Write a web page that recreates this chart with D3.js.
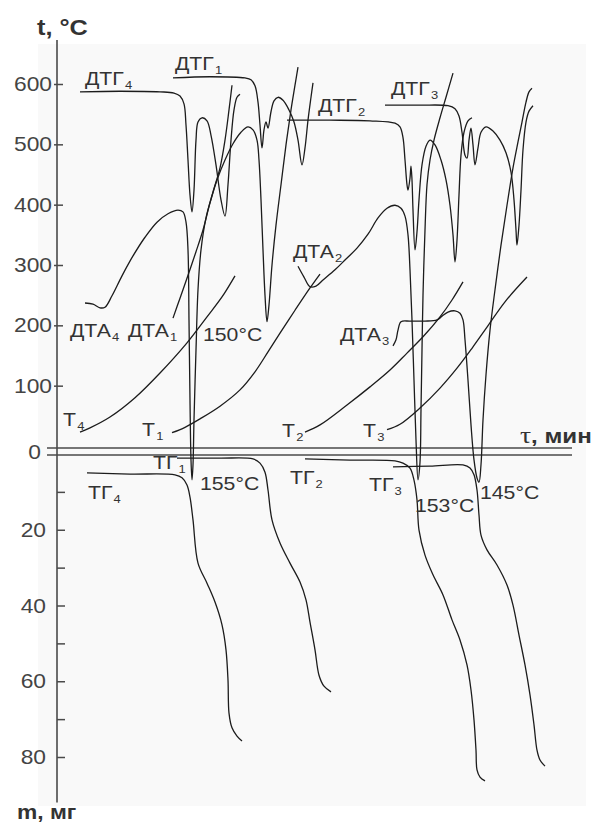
<!DOCTYPE html>
<html>
<head>
<meta charset="utf-8">
<script src="https://cdn.jsdelivr.net/npm/d3@7"></script>
<style>
  body { margin: 0; background: #fff; }
  svg { display: block; font-family: "Liberation Sans", Arial, sans-serif; }
</style>
</head>
<body>
<svg></svg>
<script>
var width = 601;
var height = 823;

// time axis carries no ticks, tau is in arbitrary minutes
// temperature curves  [tau, t °C]
var T4 = [[2.3,23],[3.3,30],[5.3,48],[7.8,80],[10.3,121],[13.0,171],[15.0,214],[16.5,247],[17.8,282]];
var T1 = [[11.5,22],[12.8,31],[14.3,45],[16.3,66],[18.3,93],[19.8,123],[21.1,156],[22.3,187],[23.8,225],[25.3,262],[26.3,285]];
var T2 = [[24.8,23],[26.3,35],[29.0,68],[31.3,98],[33.3,126],[35.0,154],[36.6,181],[38.3,214],[39.5,242],[40.6,272]];
var T3 = [[33.0,27],[34.3,36],[36.3,63],[38.3,96],[40.0,129],[41.5,162],[43.0,197],[44.8,239],[47.0,280]];

// DTA curves, drawn on the temperature scale
var DTA4 = [[2.8,237],[3.6,235],[4.3,229],[4.8,230],[5.5,249],[6.5,282],[7.6,315],[8.8,346],[10.0,371],[11.1,385],
  [12.1,391],[12.6,388],[12.9,371],[13.1,325],[13.2,209],[13.3,76],[13.4,-23],[13.5,-56],[13.6,-31],[13.7,43],
  [13.9,159],[14.1,259],[14.4,325],[14.9,378],[15.6,421],[16.3,461],[16.8,507],[17.2,557],[17.5,598]];
var DTA1 = [[11.6,212],[12.3,245],[13.1,283],[13.9,322],[14.6,358],[15.3,403],[16.0,441],[16.8,474],[17.6,501],
  [18.4,520],[19.1,529],[19.6,524],[20.0,507],[20.2,474],[20.4,408],[20.6,325],[20.8,250],[21.0,206],[21.2,234],
  [21.5,300],[21.9,366],[22.4,433],[22.9,499],[23.4,557],[23.8,598],[24.1,628]];
var DTA2 = [[24.1,298],[24.7,280],[25.3,264],[25.9,265],[26.6,275],[27.8,292],[28.9,310],[30.0,328],[31.1,351],
  [32.1,378],[33.0,394],[33.8,399],[34.4,394],[34.8,381],[35.1,350],[35.3,292],[35.5,209],[35.7,109],[35.9,10],
  [36.1,-56],[36.3,-27],[36.4,60],[36.5,159],[36.6,250],[36.8,358],[37.0,433],[37.3,474],[37.7,507],[38.3,544],
  [38.9,578],[39.6,618]];
var DTA3 = [[33.6,166],[33.9,176],[34.1,192],[34.4,206],[35.3,207],[36.8,207],[38.0,209],[38.5,215],[39.1,222],
  [39.8,224],[40.3,220],[40.6,209],[40.8,176],[41.1,109],[41.4,35],[41.7,-23],[42.0,-53],[42.2,-60],[42.4,-31],
  [42.6,43],[42.9,118],[43.3,192],[43.8,259],[44.4,333],[45.0,399],[45.6,461],[46.1,504],[46.5,537],[46.9,570],
  [47.2,587],[47.5,593]];

// DTG curves, drawn on the temperature scale
var DTG4 = [[2.3,587],[6.3,588],[10.3,587],[11.7,585],[12.3,580],[12.7,567],[12.9,532],[13.1,474],[13.3,416],
  [13.5,388],[13.7,424],[13.9,507],[14.1,537],[14.5,544],[15.0,539],[15.4,515],[15.9,466],[16.4,408],[16.8,381],
  [17.1,433],[17.4,507],[17.7,557],[18.0,578],[18.3,583]];
var DTG1 = [[11.6,610],[15.3,612],[18.8,610],[19.4,607],[19.8,597],[20.1,570],[20.3,532],[20.5,494],[20.7,524],
  [20.9,537],[21.1,527],[21.4,554],[21.7,572],[22.1,578],[22.6,573],[23.2,557],[23.7,537],[24.1,507],[24.5,466],
  [24.8,494],[25.1,540],[25.4,578],[25.6,602]];
var DTG2 = [[23.0,540],[27.3,540],[31.3,539],[33.8,535],[34.3,529],[34.6,511],[34.8,474],[35.0,433],[35.1,424],
  [35.3,444],[35.4,464],[35.5,441],[35.6,391],[35.8,325],[36.0,355],[36.2,408],[36.5,466],[36.9,497],[37.3,507],
  [37.8,499],[38.4,474],[38.9,441],[39.3,399],[39.6,350],[39.8,305],[40.0,341],[40.2,416],[40.4,482],[40.7,520],
  [41.1,539],[41.5,544]];
var DTG3 = [[32.8,565],[36.3,565],[39.1,564],[39.8,559],[40.2,547],[40.5,520],[40.8,482],[41.0,477],[41.2,507],
  [41.4,527],[41.6,499],[41.8,466],[42.1,494],[42.4,520],[42.9,529],[43.6,522],[44.3,507],[44.9,486],[45.4,454],
  [45.7,408],[45.9,358],[46.0,333],[46.2,366],[46.4,424],[46.6,491],[46.9,537],[47.2,555],[47.6,564]];

// TG curves  [tau, m mg]
var TG4 = [[3.0,5.0],[7.3,5.3],[11.8,5.5],[12.5,6.3],[13.0,8.2],[13.3,11.4],[13.6,17.4],[14.1,28.8],[15.0,34.1],
  [15.8,39.1],[16.5,45.1],[16.9,51.7],[17.1,59.7],[17.2,68.4],[17.5,72.3],[18.0,74.5],[18.5,75.8]];
var TG1 = [[12.0,1.1],[16.3,1.1],[19.6,1.3],[20.3,2.4],[20.8,4.8],[21.1,9.5],[21.5,17.4],[22.3,23.5],[23.3,28.8],
  [24.3,33.8],[24.9,38.5],[25.3,44.4],[25.8,51.7],[26.2,58.4],[26.7,61.3],[27.4,62.8]];
var TG2 = [[24.8,1.3],[29.3,1.6],[33.8,1.8],[34.6,2.4],[35.3,3.7],[35.7,6.9],[36.0,12.1],[36.2,20.1],[36.8,26.7],
  [37.6,31.9],[38.6,37.2],[39.5,43.8],[40.3,49.1],[41.0,55.7],[41.4,62.3],[41.7,70.2],[41.9,78.2],[42.0,83.4],
  [42.3,85.3],[42.8,86.3]];
var TG3 = [[33.6,3.4],[37.3,3.2],[40.6,2.9],[41.3,3.7],[41.7,5.5],[42.0,9.5],[42.2,16.1],[42.4,21.4],[43.0,25.3],
  [44.0,29.3],[45.0,34.6],[45.6,39.9],[46.2,47.8],[46.8,55.7],[47.3,63.6],[47.7,71.5],[48.0,78.2],[48.3,80.8],
  [48.8,82.4]];

var tempTicks = [100, 200, 300, 400, 500, 600];
var massTicks = [10, 20, 30, 40, 50, 60, 70, 80];
var massTickLabels = [20, 40, 60, 80];

// curve names, anchored in data units
var tempLabels = [
  { text: "ДТГ", sub: "4", tau: 2.8, val: 598 },
  { text: "ДТГ", sub: "1", tau: 11.8, val: 623 },
  { text: "ДТГ", sub: "2", tau: 26.1, val: 554 },
  { text: "ДТГ", sub: "3", tau: 33.4, val: 582 },
  { text: "ДТА", sub: "4", tau: 1.3, val: 180 },
  { text: "ДТА", sub: "1", tau: 7.1, val: 180 },
  { text: "ДТА", sub: "2", tau: 23.6, val: 312 },
  { text: "ДТА", sub: "3", tau: 28.3, val: 174 },
  { text: "T", sub: "4", tau: 0.6, val: 33 },
  { text: "T", sub: "1", tau: 8.5, val: 17 },
  { text: "T", sub: "2", tau: 22.5, val: 15 },
  { text: "T", sub: "3", tau: 30.6, val: 15 },
  { text: "150°C", sub: "", tau: 14.6, val: 174 }
];
var massLabels = [
  { text: "ТГ", sub: "1", tau: 9.6, val: 4.0 },
  { text: "ТГ", sub: "4", tau: 3.1, val: 11.9 },
  { text: "ТГ", sub: "2", tau: 23.3, val: 7.9 },
  { text: "ТГ", sub: "3", tau: 31.2, val: 9.8 },
  { text: "155°C", sub: "", tau: 14.3, val: 9.5 },
  { text: "153°C", sub: "", tau: 35.8, val: 15.3 },
  { text: "145°C", sub: "", tau: 42.3, val: 11.9 }
];

const svg = d3.select('svg')
    .attr('width', width)
    .attr('height', height);

var x = d3.scaleLinear().domain([0, 52]).range([57, 577]);
var yT = d3.scaleLinear().domain([0, 600]).range([446, 84]);
var yM = d3.scaleLinear().domain([0, 80]).range([454, 757]);

var ink = "#1c1c1c";
var axisInk = "#4a4a4a";

// faint scan background
svg.append('rect')
    .attr('x', 38).attr('y', 44)
    .attr('width', 548).attr('height', 762)
    .attr('fill', '#f9f9f9');

// vertical axis: temperature above, mass below
svg.append('line')
    .attr('x1', x(0)).attr('x2', x(0))
    .attr('y1', yT(673)).attr('y2', yM(92))
    .attr('stroke', axisInk).attr('stroke-width', 1.6);

// double tau line (t = 0 and m = 0)
svg.append('line')
    .attr('x1', x(-1)).attr('x2', x(51.5))
    .attr('y1', yT(0) + 2).attr('y2', yT(0) + 2)
    .attr('stroke', axisInk).attr('stroke-width', 1.5);
svg.append('line')
    .attr('x1', x(-1)).attr('x2', x(51.5))
    .attr('y1', yM(0) + 1).attr('y2', yM(0) + 1)
    .attr('stroke', axisInk).attr('stroke-width', 1.5);

// ticks
var tAxis = svg.append('g')
    .attr('transform', `translate(${x(0) - 3},0)`)
    .call(d3.axisRight(yT).tickValues(tempTicks).tickSize(9).tickFormat(''));
var mAxis = svg.append('g')
    .attr('transform', `translate(${x(0)},0)`)
    .call(d3.axisRight(yM).tickValues(massTicks).tickSize(8).tickFormat(''));
[tAxis, mAxis].forEach(function(g) {
    g.select('.domain').remove();
    g.selectAll('.tick line').attr('stroke', axisInk).attr('stroke-width', 1.5);
});

// tick labels, stretched a bit like the printed figure
function stretchedText(px, py, sx, anchor) {
    return svg.append('text')
        .attr('transform', `translate(${px},${py}) scale(${sx},1)`)
        .attr('text-anchor', anchor || 'start');
}
tempTicks.forEach(function(v) {
    stretchedText(x(0) - 5, yT(v) + 7, 1.14, 'end')
        .attr('font-size', 20).attr('fill', '#444').text(v);
});
stretchedText(x(-1.6), yT(0) + 13, 1.14, 'end')
    .attr('font-size', 20).attr('fill', '#444').text('0');
massTickLabels.forEach(function(v) {
    stretchedText(x(-1.1), yM(v) + 7, 1.14, 'end')
        .attr('font-size', 20).attr('fill', '#444').text(v);
});

// axis titles
stretchedText(37, 35, 1.15).attr('font-size', 22).attr('font-weight', 'bold')
    .attr('fill', '#333').text('t, °C');
stretchedText(17, 819, 1.14).attr('font-size', 20).attr('font-weight', 'bold')
    .attr('fill', '#333').text('m, мг');
var tauTitle = stretchedText(520, 443, 1.15).attr('fill', '#333');
tauTitle.append('tspan')
    .attr('font-family', '"Liberation Serif", "DejaVu Serif", serif')
    .attr('font-size', 24).text('τ');
tauTitle.append('tspan')
    .attr('font-size', 21).attr('font-weight', 'bold').text(', мин');

// curves
function lineOn(yScale) {
    return d3.line()
        .x(d => x(d[0]))
        .y(d => yScale(d[1]))
        .curve(d3.curveCatmullRom.alpha(0.5));
}
var upperCurves = [T4, T1, T2, T3, DTA4, DTA1, DTA2, DTA3, DTG4, DTG1, DTG2, DTG3];
var lowerCurves = [TG4, TG1, TG2, TG3];

svg.append('g').selectAll('path')
    .data(upperCurves)
    .join('path')
    .attr('d', lineOn(yT))
    .attr('fill', 'none')
    .attr('stroke', ink)
    .attr('stroke-width', 1.3)
    .attr('stroke-linejoin', 'round');
svg.append('g').selectAll('path')
    .data(lowerCurves)
    .join('path')
    .attr('d', lineOn(yM))
    .attr('fill', 'none')
    .attr('stroke', ink)
    .attr('stroke-width', 1.3)
    .attr('stroke-linejoin', 'round');

// curve names
function drawLabel(d, yScale) {
    var t = stretchedText(x(d.tau), yScale(d.val), 1.18)
        .attr('font-size', 18).attr('fill', '#333');
    t.append('tspan').text(d.text);
    if (d.sub) {
        t.append('tspan')
            .attr('font-size', 11)
            .attr('dx', 1)
            .attr('dy', 4)
            .text(d.sub);
    }
}
tempLabels.forEach(d => drawLabel(d, yT));
massLabels.forEach(d => drawLabel(d, yM));
</script>
</body>
</html>
